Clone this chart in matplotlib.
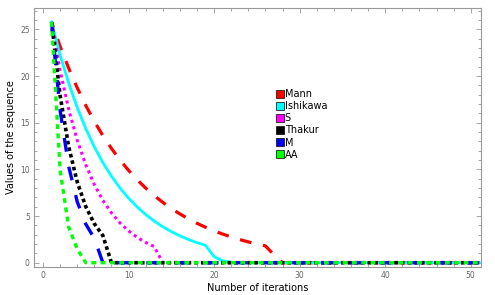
import numpy as np
import matplotlib.pyplot as plt
from matplotlib.lines import Line2D
from matplotlib.ticker import MultipleLocator

plt.rcParams['lines.scale_dashes'] = False

# --- data (iteration n = 1..51) ---
n = np.arange(1, 52)

mann_head = [25.8, 23.19, 20.85, 18.75, 16.85, 15.15, 13.62, 12.25, 11.01, 9.90,
             8.90, 8.00, 7.19, 6.47, 5.81, 5.23, 4.70, 4.22, 3.80, 3.41,
             3.07, 2.76, 2.48, 2.23, 2.01, 1.80, 0.85, 0.0]
ishikawa_head = [25.8, 22.29, 19.26, 16.64, 14.38, 12.42, 10.73, 9.27, 8.01, 6.92,
                 5.98, 5.17, 4.46, 3.86, 3.33, 2.88, 2.49, 2.15, 1.86, 0.65,
                 0.2, 0.05, 0.0]
s_head = [25.8, 20.60, 16.45, 13.14, 10.49, 8.38, 6.69, 5.34, 4.27, 3.41,
          2.72, 2.17, 1.73, 0.0]
thakur_head = [25.8, 17.93, 12.46, 8.66, 6.02, 4.18, 2.91, 0.0]
m_head = [25.8, 16.33, 10.34, 6.54, 4.14, 2.62, 0.0]
aa_head = [25.8, 9.93, 3.82, 1.47, 0.0]


def pad(vals):
    return np.array(vals + [0.0] * (len(n) - len(vals)))


series = [
    ("Mann", pad(mann_head), "#ff0000", 2.3, (4, (8.5, 8.5))),
    ("Ishikawa", pad(ishikawa_head), "#00ffff", 2.0, "-"),
    ("S", pad(s_head), "#ff00ff", 2.2, (0, (2.2, 2.6))),
    ("Thakur", pad(thakur_head), "#000000", 2.6, (0, (2.6, 2.2))),
    ("M", pad(m_head), "#0000ff", 2.4, (0, (10, 11))),
    ("AA", pad(aa_head), "#00ff00", 2.4, (0, (3.5, 3.2))),
]

fig = plt.figure(figsize=(4.95, 2.95), dpi=100)
ax = fig.add_axes([0.0687, 0.0949, 0.903, 0.878])

for name, y, c, lw, ls in series:
    ax.plot(n, y, color=c, lw=lw, linestyle=ls, dash_capstyle='butt',
            solid_joinstyle='round')

ax.set_xlim(-1.05, 51.2)
ax.set_ylim(-0.46, 27.3)

ax.xaxis.set_major_locator(MultipleLocator(10))
ax.xaxis.set_minor_locator(MultipleLocator(2))
ax.yaxis.set_major_locator(MultipleLocator(5))
ax.yaxis.set_minor_locator(MultipleLocator(1))
ax.tick_params(which='both', direction='in', top=True, right=True,
               color='#999999', width=0.6)
ax.tick_params(which='major', length=3.5, labelsize=5.5, labelcolor='#666666', pad=3)
ax.tick_params(which='minor', length=2)
for sp in ax.spines.values():
    sp.set_color('#999999')
    sp.set_linewidth(0.8)

ax.set_xlabel("Number of iterations", fontsize=7, labelpad=2)
ax.set_ylabel("Values of the sequence", fontsize=7, labelpad=3)

handles = [Line2D([], [], marker='s', linestyle='none', markersize=5.5,
                  markerfacecolor=c, markeredgecolor='black', markeredgewidth=0.5)
           for _, _, c, _, _ in series]
ax.legend(handles, [s[0] for s in series], loc='upper left',
          bbox_to_anchor=(0.535, 0.702), frameon=False, fontsize=7,
          handlelength=0.6, handletextpad=0.2, labelspacing=0.22,
          borderaxespad=0)

fig.savefig("out.png", dpi=100)
